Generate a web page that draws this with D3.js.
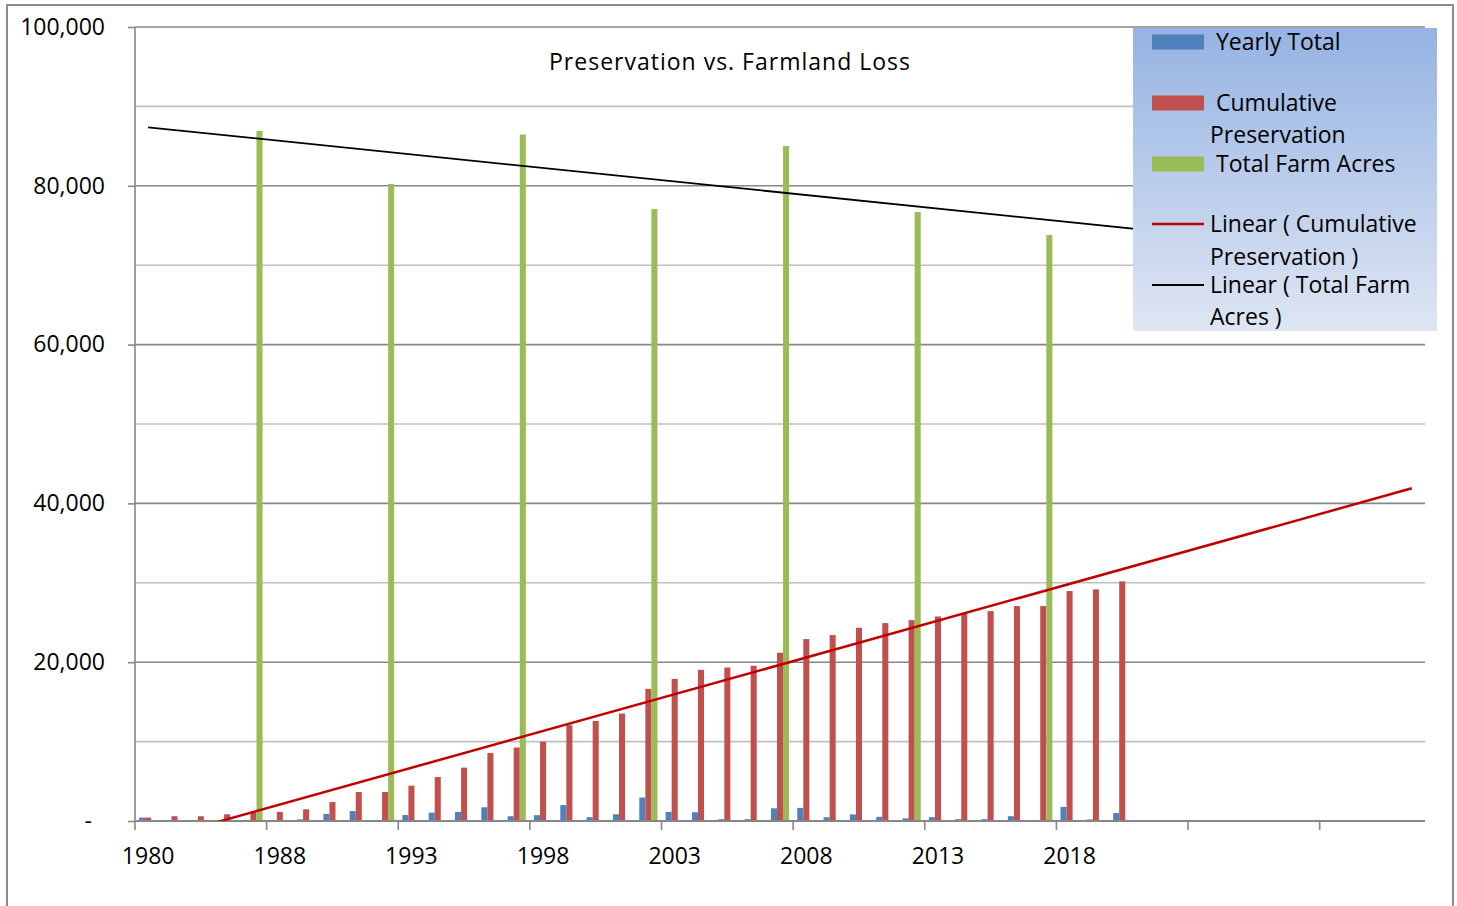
<!DOCTYPE html>
<html>
<head>
<meta charset="utf-8">
<script src="https://cdn.jsdelivr.net/npm/d3@7"></script>
<style>
  body { margin: 0; background: #fff; }
  text { font-family: "Open Sans", Lato, sans-serif; fill: #000; }
</style>
</head>
<body>
<div id="chart"></div>
<script>
// categories (only every 5th one gets a label on the axis)
const categories = ["1980", "1984", "1985", "1986", "1987", "1988", "1989", "1990", "1991", "1992",
  "1993", "1994", "1995", "1996", "1997", "1998", "1999", "2000", "2001", "2002",
  "2003", "2004", "2005", "2006", "2007", "2008", "2009", "2010", "2011", "2012",
  "2013", "2014", "2015", "2016", "2017", "2018", "2019", "2020", "",
  "", "", "", "", "", "", "", "", "", ""];

const yearlyTotal = [430, 100, null, null, null, 100, 200, 900, 1250, null,
  750, 1050, 1150, 1730, 600, 730, 2000, 480, 850, 2960,
  1150, 1100, 230, 230, 1600, 1650, 480, 830, 530, 330,
  480, 230, 230, 600, null, 1780, 200, 1000];

const cumulativePreservation = [430, 600, 600, 850, 1100, 1150, 1470, 2390, 3650, 3650,
  4450, 5540, 6720, 8575, 9250, 10000, 12070, 12600, 13530, 16650,
  17900, 19040, 19330, 19550, 21190, 22910, 23410, 24340, 24930, 25300,
  25760, 26100, 26440, 27070, 27070, 28960, 29170, 30180];

const totalFarmAcres = [null, null, null, null, 86900, null, null, null, null, 80230,
  null, null, null, null, 86450, null, null, null, null, 77080,
  null, null, null, null, 85010, null, null, null, null, 76700,
  null, null, null, null, 73800];

const seriesNames = ["Yearly Total", "Cumulative Preservation", "Total Farm Acres"];
const seriesColors = ["#4f81bd", "#c0504d", "#9bbb59"];
const yTicks = [0, 20000, 40000, 60000, 80000, 100000];
const yGrid = [10000, 20000, 30000, 40000, 50000, 60000, 70000, 80000, 90000, 100000];
const title = "Preservation vs. Farmland Loss";

const W = 1457, H = 906;
const plot = { left: 135, right: 1425, top: 27, bottom: 821 };

const svg = d3.select("#chart").append("svg")
  .attr("width", W).attr("height", H);

// chart border
svg.append("rect")
  .attr("x", 7).attr("y", 5).attr("width", 1446).attr("height", 930)
  .attr("fill", "#fff").attr("stroke", "#8c8c8c").attr("stroke-width", 2);

const idx = d3.range(categories.length);
const x = d3.scaleBand().domain(idx).range([plot.left, plot.right]).padding(0);
const y = d3.scaleLinear().domain([0, 100000]).range([plot.bottom, plot.top]);

// bars sit in a group that is 1/1.45 of the category (gap width 45%)
const groupW = x.bandwidth() / 1.45;
const xs = d3.scaleBand().domain([0, 1, 2])
  .range([(x.bandwidth() - groupW) / 2, (x.bandwidth() + groupW) / 2]);

// gridlines
svg.append("g").selectAll("line")
  .data(yGrid)
  .join("line")
  .attr("x1", plot.left).attr("x2", plot.right)
  .attr("y1", d => y(d)).attr("y2", d => y(d))
  .attr("stroke", d => d % 20000 === 0 ? "#878787" : "#c0c0c0")
  .attr("stroke-width", 1.6);

// bars
const allSeries = [yearlyTotal, cumulativePreservation, totalFarmAcres];
allSeries.forEach((vals, s) => {
  svg.append("g").selectAll("rect")
    .data(vals.map((v, i) => ({ i, v })).filter(d => d.v != null))
    .join("rect")
    .attr("x", d => x(d.i) + xs(s))
    .attr("width", xs.bandwidth())
    .attr("y", d => y(d.v))
    .attr("height", d => y(0) - y(d.v))
    .attr("fill", seriesColors[s]);
});

// y axis
const yAxis = svg.append("g")
  .attr("transform", `translate(${plot.left},0)`)
  .call(d3.axisLeft(y).tickValues(yTicks).tickSize(7).tickPadding(23)
    .tickFormat(d => d === 0 ? "-" : d3.format(",")(d)));
yAxis.select(".domain").remove();
yAxis.selectAll(".tick line").attr("stroke", "#878787").attr("stroke-width", 1.6);
yAxis.selectAll(".tick text")
  .style("font-family", "'Open Sans', sans-serif")
  .style("font-size", "23px")
  .attr("fill", "#000")
  .attr("dx", d => d === 0 ? -13 : 0);
svg.append("line")
  .attr("x1", plot.left).attr("x2", plot.left)
  .attr("y1", plot.top).attr("y2", plot.bottom + 9)
  .attr("stroke", "#878787").attr("stroke-width", 1.6);

// x axis
svg.append("line")
  .attr("x1", plot.left).attr("x2", plot.right)
  .attr("y1", plot.bottom).attr("y2", plot.bottom)
  .attr("stroke", "#878787").attr("stroke-width", 2);
const every5 = idx.filter(i => i % 5 === 0);
svg.append("g").selectAll("line")
  .data(every5.filter(i => i > 0))
  .join("line")
  .attr("x1", d => x(d)).attr("x2", d => x(d))
  .attr("y1", plot.bottom).attr("y2", plot.bottom + 9)
  .attr("stroke", "#878787").attr("stroke-width", 1.6);
svg.append("g").selectAll("text")
  .data(every5)
  .join("text")
  .attr("x", d => x(d) + x.bandwidth() / 2)
  .attr("y", 864)
  .attr("text-anchor", "middle")
  .style("font-size", "23px")
  .text(d => categories[d]);

// linear trendlines (least squares on category index), drawn across all categories
function linearFit(vals) {
  const pts = vals.map((v, i) => [i, v]).filter(p => p[1] != null);
  const mx = d3.mean(pts, p => p[0]), my = d3.mean(pts, p => p[1]);
  const sxy = d3.sum(pts, p => (p[0] - mx) * (p[1] - my));
  const sxx = d3.sum(pts, p => (p[0] - mx) * (p[0] - mx));
  const b = sxy / sxx;
  return i => my + b * (i - mx);
}
const cx = i => x(i) + x.bandwidth() / 2;
const trends = [
  { vals: cumulativePreservation, color: "#c00000", width: 2.5 },
  { vals: totalFarmAcres, color: "#000", width: 1.8 }
];
svg.append("clipPath").attr("id", "plotclip")
  .append("rect")
  .attr("x", plot.left).attr("y", plot.top)
  .attr("width", plot.right - plot.left).attr("height", plot.bottom - plot.top);
trends.forEach(t => {
  const f = linearFit(t.vals);
  const ends = [0, categories.length - 1];
  svg.append("path")
    .attr("d", d3.line().x(d => cx(d)).y(d => y(f(d)))(ends))
    .attr("fill", "none")
    .attr("stroke", t.color)
    .attr("stroke-width", t.width)
    .attr("clip-path", "url(#plotclip)");
});

// title
svg.append("text")
  .attr("x", 730).attr("y", 70)
  .attr("text-anchor", "middle")
  .style("font-size", "23px")
  .style("letter-spacing", "1px")
  .text(title);

// legend
const defs = svg.append("defs");
const grad = defs.append("linearGradient").attr("id", "legbg")
  .attr("x1", 0).attr("y1", 0).attr("x2", 0).attr("y2", 1);
grad.append("stop").attr("offset", "0%").attr("stop-color", "#95b3e3");
grad.append("stop").attr("offset", "100%").attr("stop-color", "#dfe6f3");

const leg = svg.append("g");
leg.append("rect")
  .attr("x", 1133).attr("y", 28).attr("width", 304).attr("height", 303)
  .attr("fill", "url(#legbg)");

const legendItems = [
  { kind: "box", color: seriesColors[0], sy: 42, lines: [[1216, 42, "Yearly Total"]] },
  { kind: "box", color: seriesColors[1], sy: 103, lines: [[1216, 103, "Cumulative"], [1210, 135, "Preservation"]] },
  { kind: "box", color: seriesColors[2], sy: 164, lines: [[1216, 164, "Total Farm Acres"]] },
  { kind: "line", color: "#c00000", w: 2.5, sy: 224, lines: [[1210, 224, "Linear ( Cumulative"], [1210, 257, "Preservation )"]] },
  { kind: "line", color: "#000", w: 1.8, sy: 285, lines: [[1210, 285, "Linear ( Total Farm"], [1210, 317, "Acres )"]] }
];
legendItems.forEach(it => {
  if (it.kind === "box") {
    leg.append("rect").attr("x", 1152).attr("y", it.sy - 7.5)
      .attr("width", 52).attr("height", 15).attr("fill", it.color);
  } else {
    leg.append("line").attr("x1", 1152).attr("x2", 1204)
      .attr("y1", it.sy).attr("y2", it.sy)
      .attr("stroke", it.color).attr("stroke-width", it.w);
  }
  it.lines.forEach(l => {
    leg.append("text")
      .attr("x", l[0]).attr("y", l[1])
      .attr("dy", "0.35em")
      .style("font-size", "23px")
      .text(l[2]);
  });
});
</script>
</body>
</html>
